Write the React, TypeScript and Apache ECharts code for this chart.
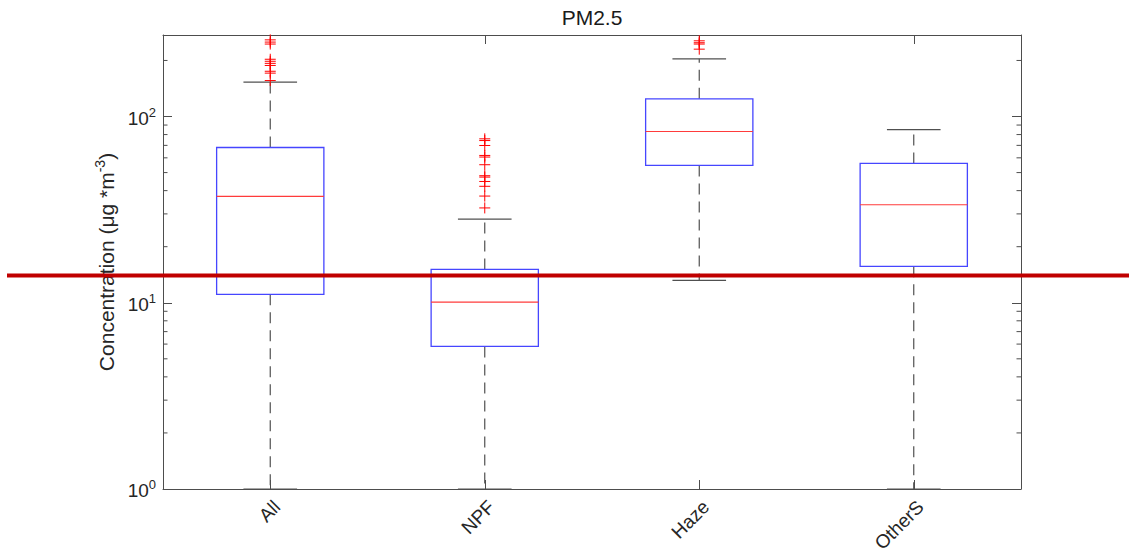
import React, { useEffect, useRef } from 'react';
import * as echarts from 'echarts';

const categories = ['All', 'NPF', 'Haze', 'OtherS'];
const whiskerLow = [1, 1, 13.2, 1];
const q1 = [11.1, 5.83, 54.6, 15.7];
const medians = [37.3, 10.07, 83.1, 33.6];
const q3 = [68.2, 15.1, 124.4, 56.0];
const whiskerHigh = [153, 28.1, 204, 85.1];
const outliersAll = [258, 251, 245, 203, 198, 193, 188, 175, 171, 156];
const outliersNPF = [75.9, 74.3, 69.9, 61.8, 60.6, 55.1, 48.1, 47.3, 44.8, 42.2, 37.4, 32.3];
const outliersHaze = [255, 249, 245, 230];
const outliersOtherS: number[] = [];
const yMin = 1;
const yMax = 274;
const minorTickValues = [2, 3, 4, 5, 6, 7, 8, 9, 20, 30, 40, 50, 60, 70, 80, 90, 200];
const thresholdValue = 14;
const titleText = 'PM2.5';

export default function App() {
  const ref = useRef<HTMLDivElement>(null);
  useEffect(() => {
    const chart = echarts.init(ref.current!, null, { renderer: 'svg' });
    const font = '"Liberation Sans", Arial, Helvetica, sans-serif';
    const axisColor = '#4d4d4d';
    const textColor = '#262626';
    const whiskerColor = '#505050';
    const boxColor = '#4646ff';
    const medianColor = '#ff3b3b';
    const outlierColor = '#ff0000';

    const boxData = categories.map((_, i) => [i, whiskerLow[i], q1[i], medians[i], q3[i], whiskerHigh[i]]);
    const outlierLists = [outliersAll, outliersNPF, outliersHaze, outliersOtherS];
    const outlierData: number[][] = [];
    outlierLists.forEach((list, i) => list.forEach((v) => outlierData.push([i, v])));
    const minorData = minorTickValues.map((v) => [0, v]);

    const isPow10 = (v: number) => Math.abs(Math.log10(v) - Math.round(Math.log10(v))) < 1e-9;
    const labelRich = {
      b: { fontSize: 19, lineHeight: 22, color: textColor, fontFamily: font, verticalAlign: 'bottom' },
      sup: { fontSize: 13, lineHeight: 13, color: textColor, fontFamily: font, verticalAlign: 'bottom', padding: [0, 0, 9, 0] },
    };

    const yBase = {
      type: 'log',
      logBase: 10,
      min: yMin,
      max: yMax,
      axisLine: { show: true, lineStyle: { color: axisColor, width: 1 } },
      axisTick: { show: true, inside: true, length: 9, lineStyle: { color: axisColor, width: 1 } },
      splitLine: { show: false },
      minorTick: { show: false },
      minorSplitLine: { show: false },
    };
    const xBase = {
      type: 'category',
      data: categories,
      boundaryGap: true,
      axisLine: { show: true, lineStyle: { color: axisColor, width: 1 } },
      axisTick: { show: true, inside: true, alignWithLabel: true, length: 9, lineStyle: { color: axisColor, width: 1 } },
      splitLine: { show: false },
    };

    chart.setOption({
      animation: false,
      backgroundColor: '#ffffff',
      title: {
        text: titleText,
        left: 592,
        textAlign: 'center',
        top: 7,
        padding: 0,
        textStyle: { fontSize: 21, fontWeight: 'normal', color: '#1a1a1a', fontFamily: font },
      },
      grid: { left: 163, right: 108, top: 35, bottom: 65, containLabel: false, outerBoundsMode: 'none' },
      xAxis: [
        {
          ...xBase,
          position: 'bottom',
          axisLabel: {
            rotate: 45,
            fontSize: 19,
            lineHeight: 19,
            color: textColor,
            fontFamily: font,
            margin: 8,
            align: 'right',
            verticalAlign: 'top',
          },
        },
        { ...xBase, position: 'top', axisLabel: { show: false } },
      ],
      yAxis: [
        {
          ...yBase,
          position: 'left',
          name: '{b|Concentration (μg *m}{sup|-3}{b|)}',
          nameLocation: 'middle',
          nameGap: 45,
          nameRotate: 90,
          nameTextStyle: {
            fontSize: 21,
            color: textColor,
            fontFamily: font,
            rich: {
              b: { fontSize: 21, lineHeight: 24, color: textColor, fontFamily: font, verticalAlign: 'bottom' },
              sup: { fontSize: 14, lineHeight: 14, color: textColor, fontFamily: font, verticalAlign: 'bottom', padding: [0, 0, 10, 0] },
            },
          },
          axisLabel: {
            margin: 7,
            formatter: (v: number) => (isPow10(v) ? `{b|10}{sup|${Math.round(Math.log10(v))}}` : ''),
            rich: labelRich,
          },
        },
        { ...yBase, position: 'right', axisLabel: { show: false } },
      ],
      series: [
        {
          type: 'custom',
          name: 'minorTicks',
          silent: true,
          clip: false,
          xAxisIndex: 0,
          yAxisIndex: 0,
          encode: { x: 0, y: 1 },
          data: minorData,
          renderItem: (params: any, api: any) => {
            const cs = params.coordSys;
            const y = api.coord([0, api.value(1)])[1];
            const len = 4.5;
            const st = { stroke: axisColor, lineWidth: 1 };
            return {
              type: 'group',
              children: [
                { type: 'line', shape: { x1: cs.x, y1: y, x2: cs.x + len, y2: y }, style: st },
                { type: 'line', shape: { x1: cs.x + cs.width - len, y1: y, x2: cs.x + cs.width, y2: y }, style: st },
              ],
            };
          },
        },
        {
          type: 'custom',
          name: 'boxes',
          silent: true,
          clip: false,
          encode: { x: 0, y: [1, 2, 3, 4, 5] },
          data: boxData,
          renderItem: (params: any, api: any) => {
            const cs = params.coordSys;
            const band = cs.width / categories.length;
            const idx = api.value(0);
            const p = (d: number) => api.coord([idx, api.value(d)]);
            const cx = p(3)[0];
            const yLow = p(1)[1];
            const yQ1 = p(2)[1];
            const yMed = p(3)[1];
            const yQ3 = p(4)[1];
            const yHigh = p(5)[1];
            const boxHalf = band * 0.25;
            const capHalf = band * 0.125;
            const dashed = { stroke: whiskerColor, lineWidth: 1.2, lineDash: [11, 7] };
            const solid = { stroke: whiskerColor, lineWidth: 1.2 };
            return {
              type: 'group',
              children: [
                { type: 'line', shape: { x1: cx, y1: yQ3, x2: cx, y2: yHigh }, style: dashed },
                { type: 'line', shape: { x1: cx, y1: yQ1, x2: cx, y2: yLow }, style: dashed },
                { type: 'line', shape: { x1: cx - capHalf, y1: yHigh, x2: cx + capHalf, y2: yHigh }, style: solid },
                { type: 'line', shape: { x1: cx - capHalf, y1: yLow, x2: cx + capHalf, y2: yLow }, style: solid },
                {
                  type: 'rect',
                  shape: { x: cx - boxHalf, y: yQ3, width: boxHalf * 2, height: yQ1 - yQ3 },
                  style: { fill: 'none', stroke: boxColor, lineWidth: 1.3 },
                },
                { type: 'line', shape: { x1: cx - boxHalf, y1: yMed, x2: cx + boxHalf, y2: yMed }, style: { stroke: medianColor, lineWidth: 1.2 } },
              ],
            };
          },
        },
        {
          type: 'custom',
          name: 'outliers',
          silent: true,
          clip: false,
          encode: { x: 0, y: 1 },
          data: outlierData,
          renderItem: (params: any, api: any) => {
            const [x, y] = api.coord([api.value(0), api.value(1)]);
            const h = 5.5;
            const st = { stroke: outlierColor, lineWidth: 1 };
            return {
              type: 'group',
              children: [
                { type: 'line', shape: { x1: x - h, y1: y, x2: x + h, y2: y }, style: st },
                { type: 'line', shape: { x1: x, y1: y - h, x2: x, y2: y + h }, style: st },
              ],
            };
          },
        },
      ],
    });

    const yThr = chart.convertToPixel({ yAxisIndex: 0 }, thresholdValue) as number;
    chart.setOption({
      graphic: [
        {
          type: 'line',
          z: 100,
          silent: true,
          shape: { x1: 7, y1: yThr, x2: 1129, y2: yThr },
          style: { stroke: '#c00000', lineWidth: 4 },
        },
      ],
    });

    return () => chart.dispose();
  }, []);
  return <div ref={ref} style={{ position: 'absolute', left: 0, top: 0, width: 1129, height: 554 }} />;
}
